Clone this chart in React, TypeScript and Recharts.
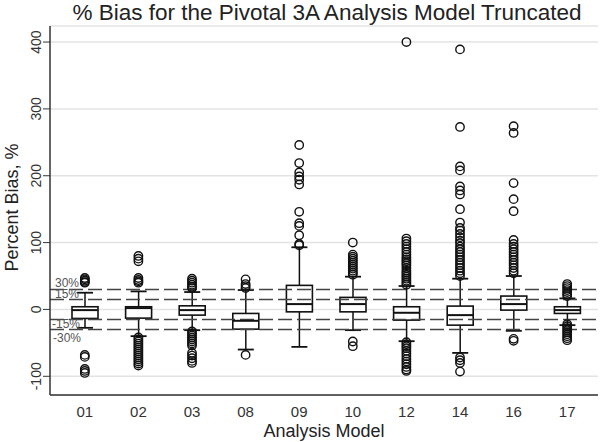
import React from 'react';
import { ComposedChart, Bar, Scatter, XAxis, YAxis, CartesianGrid, ReferenceLine } from 'recharts';

const models = ['01', '02', '03', '08', '09', '10', '12', '14', '16', '17'];
const whiskerLow = [-27.5, -40, -31, -60, -56, -31, -47.5, -65, -32, -23.5];
const q1 = [-13.5, -13, -8.5, -29.5, -3.6, -3.6, -16, -23.5, -1, -6];
const median = [-1, 2, -1, -17, 8, 8, -5, -8.5, 8, -1];
const q3 = [4, 4, 5.4, -6, 36, 18, 4, 5, 20, 4];
const whiskerHigh = [25, 27, 26, 29, 93, 49, 35, 46, 50, 16.5];

const out01 = [47, 45, 43, 41, 40, -68, -71, -89, -92, -95];
const out02 = [80, 76, 72, 47, 44, 42, 40, -42, -45, -48, -51, -54, -57, -60, -63, -66, -69, -72, -75, -78, -81, -84];
const out03 = [46, 43, 40, 37, 34, 32, -33, -36, -39, -42, -45, -48, -51, -54, -65, -69, -73, -77, -80];
const out08 = [45, 38, 35, 32, -68];
const out09 = [246, 219, 205, 199, 194, 187, 146, 129, 125, 111, 98, 96];
const out10 = [100, 82, 79, 76, 73, 70, 67, 64, 61, 58, 55, 52, -48, -55];
const out12 = [400, 106, 102, 98, 94, 90, 86, 82, 78, 75, 72, 69, 66, 62, 58, 55, 52, 49, 46, 43, 40, 37,
  -49, -52, -55, -58, -62, -66, -70, -74, -78, -82, -86, -90, -92];
const out14 = [389, 273, 214, 208, 184, 178, 172, 150, 130, 122, 118, 113, 108, 103, 99, 94, 90, 86, 82, 78, 74, 70, 66, 62, 58, 54, 50,
  -72, -76, -80, -93];
const out16 = [274, 264, 189, 165, 147, 104, 98, 94, 90, 86, 82, 78, 74, 70, 66, 62, 58, 54, -44, -47];
const out17 = [38, 35, 32, 29, 26, 23, 20, -22, -25, -28, -31, -34, -37, -40, -43, -46];
const outliers = [out01, out02, out03, out08, out09, out10, out12, out14, out16, out17];

const yTicks = [-100, 0, 100, 200, 300, 400];
const refLines = [30, 15, -15, -30];
const refLabels = ['30%', '15%', '-15%', '-30%'];
const refLabelDy = [-2, -1, 9, 13];
const refLabelDx = [5, 5, 2, 3];

const rows = models.map((m, i) => ({
  model: m,
  whisker: [whiskerLow[i], whiskerHigh[i]],
  box: [q1[i], q3[i]],
  median: median[i],
}));
const outlierRows = models.flatMap((m, i) => outliers[i].map((v) => ({ model: m, v })));

const FONT = '"Liberation Sans", Arial, sans-serif';
const INK = '#111';

const WhiskerShape = (props: any) => {
  const { x, y, width, height } = props;
  const cx = x + width / 2;
  const top = Math.min(y, y + height);
  const bot = Math.max(y, y + height);
  return (
    <g>
      <line x1={cx} x2={cx} y1={top} y2={bot} stroke={INK} strokeWidth={1.5} />
      <line x1={cx - 8} x2={cx + 8} y1={top} y2={top} stroke={INK} strokeWidth={1.8} />
      <line x1={cx - 8} x2={cx + 8} y1={bot} y2={bot} stroke={INK} strokeWidth={1.8} />
    </g>
  );
};

const BoxShape = (props: any) => {
  const { x, y, width, height } = props;
  const top = Math.min(y, y + height);
  const h = Math.abs(height);
  return <rect x={x} y={top} width={width} height={h} fill="#fff" stroke={INK} strokeWidth={1.6} />;
};

const MedianShape = (props: any) => {
  const { cx, cy } = props;
  return <line x1={cx - 13} x2={cx + 13} y1={cy} y2={cy} stroke={INK} strokeWidth={2} />;
};

const OutlierShape = (props: any) => {
  const { cx, cy } = props;
  return <circle cx={cx} cy={cy} r={4.2} fill="none" stroke={INK} strokeWidth={1.4} />;
};

const YTick = (props: any) => {
  const { x, y, payload } = props;
  return (
    <text x={x} y={y} transform={`rotate(-90 ${x} ${y})`} textAnchor="middle" fontSize={14} fill="#333" fontFamily={FONT}>
      {payload.value}
    </text>
  );
};

const YLabel = (props: any) => {
  const vb = props.viewBox || {};
  const x = 18;
  const y = (vb.y || 26) + (vb.height || 369) / 2 - 3;
  return (
    <text x={x} y={y} transform={`rotate(-90 ${x} ${y})`} textAnchor="middle" fontSize={18} fill="#222" fontFamily={FONT}>
      Percent Bias, %
    </text>
  );
};

const makeRefLabel = (i: number) => (props: any) => {
  const vb = props.viewBox || {};
  return (
    <text x={(vb.x || 50) + refLabelDx[i]} y={(vb.y || 0) + refLabelDy[i]} fontSize={12} fill="#555" fontFamily={FONT}>
      {refLabels[i]}
    </text>
  );
};

export default function App() {
  return (
    <div style={{ position: 'absolute', left: 0, top: 0, width: 600, height: 442, background: '#fff', fontFamily: FONT }}>
      <div
        style={{
          position: 'absolute',
          left: 327,
          top: 0,
          transform: 'translateX(-50%)',
          whiteSpace: 'nowrap',
          fontSize: 22.5,
          lineHeight: '25px',
          color: '#222',
          fontFamily: FONT,
        }}
      >
        % Bias for the Pivotal 3A Analysis Model Truncated
      </div>
      <ComposedChart width={600} height={442} data={rows} margin={{ top: 26, right: 2, bottom: 0, left: 0 }}>
        <CartesianGrid vertical={false} stroke="#e3e3e3" strokeWidth={1.5} />
        <XAxis
          dataKey="model"
          type="category"
          allowDuplicatedCategory={false}
          padding={{ left: 8, right: 4 }}
          height={47}
          tickSize={0}
          tickMargin={11}
          tickLine={false}
          axisLine={{ stroke: '#333', strokeWidth: 1.5 }}
          tick={{ fontSize: 15, fill: '#333', fontFamily: FONT }}
          label={{ value: 'Analysis Model', position: 'insideBottom', offset: 5, fontSize: 18, fill: '#222', fontFamily: FONT }}
        />
        <XAxis xAxisId="b" dataKey="model" type="category" allowDuplicatedCategory={false} padding={{ left: 8, right: 4 }} hide />
        <XAxis
          xAxisId="t"
          dataKey="model"
          type="category"
          allowDuplicatedCategory={false}
          orientation="top"
          height={0}
          tick={false}
          tickLine={false}
          axisLine={{ stroke: '#333', strokeWidth: 1.5 }}
        />
        <YAxis
          type="number"
          domain={[-128, 424]}
          ticks={yTicks}
          width={50}
          tickSize={7}
          tickMargin={2}
          tickLine={{ stroke: '#333' }}
          axisLine={{ stroke: '#333', strokeWidth: 1.5 }}
          tick={<YTick />}
          interval={0}
          label={{ content: <YLabel /> }}
        />
        <YAxis
          yAxisId="r"
          orientation="right"
          type="number"
          domain={[-128, 424]}
          width={0}
          tick={false}
          tickLine={false}
          axisLine={{ stroke: '#333', strokeWidth: 1.5 }}
        />
        {refLines.map((v, i) => (
          <ReferenceLine
            key={v}
            y={v}
            stroke="#444"
            strokeWidth={1.5}
            strokeDasharray="14 5"
            label={{ content: makeRefLabel(i) } as any}
          />
        ))}
        <Bar dataKey="whisker" barSize={26} shape={<WhiskerShape />} isAnimationActive={false} />
        <Bar dataKey="box" xAxisId="b" barSize={26} shape={<BoxShape />} isAnimationActive={false} />
        <Scatter dataKey="median" shape={<MedianShape />} isAnimationActive={false} />
        <Scatter data={outlierRows} dataKey="v" shape={<OutlierShape />} isAnimationActive={false} />
      </ComposedChart>
    </div>
  );
}
